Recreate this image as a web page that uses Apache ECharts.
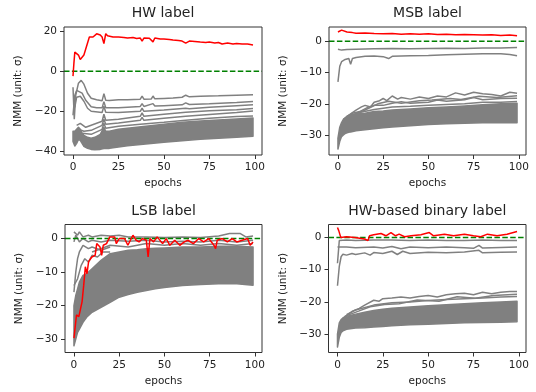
<!DOCTYPE html>
<html><head><meta charset="utf-8">
<script src="https://cdn.jsdelivr.net/npm/echarts@6/dist/echarts.min.js"></script>
<style>html,body{margin:0;padding:0;background:#fff}#c{width:536px;height:392px}</style>
</head><body><div id="c"></div>
<script>
// ---------- labels & ticks ----------
const titles = ['HW label', 'MSB label', 'LSB label', 'HW-based binary label'];
const xName = 'epochs';
const yName = 'NMM (unit: \u03c3)';
const epochTicks = [0, 25, 50, 75, 100];
const yTicksHW = [-40, -20, 0, 20];
const yTicksOther = [-30, -20, -10, 0];
const refLevel = 0;

// ---------- HW label ----------
const hwRed = [[0,-2.5],[0.5,4],[1,9.5],[2,10],[3,8],[4,5.8],[5,5.8],[6,8],[7,11],[8,14],[9,17],[10,17.5],[11,17],[12,17.6],[13,18.6],[14,18.5],[15,18],[16,17],[17,13.7],[18,18.7],[19,17.6],[20,17.3],[22,17],[25,17],[28,16.8],[30,16.5],[33,16.8],[35,16.3],[37,16.5],[38,15],[39,16.5],[42,16.4],[43,15.5],[44,14.6],[45,16.5],[48,16],[50,16],[53,15.8],[55,15.5],[58,15.3],[60,15],[62,14],[64,15],[67,14.8],[70,14.5],[73,14.3],[75,14.5],[78,14],[80,14.3],[82,13.5],[85,14],[88,13.5],[90,13.8],[93,13.5],[96,13.5],[99,13]];
const hwGrayA = [[0,-8],[0.7,-24],[1.5,-12],[3,-6],[4.5,-4.6],[6,-6.5],[8,-11],[10,-13.5],[13,-14.3],[16,-14.8],[17,-11.2],[18,-14.5],[20,-14.6],[25,-14.3],[30,-14.2],[37,-14],[38,-12.4],[39,-14],[43,-13.9],[44,-12.4],[45,-13.8],[50,-13.6],[55,-13.4],[60,-13],[62,-12],[64,-12.8],[70,-12.5],[80,-12.3],[90,-12],[99,-11.8]];
const hwGrayB = [[0,-22],[1,-12],[2,-9.6],[3,-9.5],[5,-11],[7,-14.5],[10,-17.8],[13,-18.3],[16,-18.3],[17,-15.2],[18,-18.2],[25,-18.3],[30,-18],[37,-17.6],[38,-16.2],[39,-17.6],[44,-16.2],[45,-17.4],[50,-17.2],[60,-16.8],[62,-15.8],[64,-16.6],[75,-16.2],[90,-15.6],[99,-15.1]];
const hwGrayC = [[1,-18],[2,-13],[4,-12.5],[6,-15],[8,-18.5],[10,-20],[16,-20.6],[17,-17.5],[18,-20.5],[25,-20.6],[37,-20],[38,-18.5],[39,-20],[50,-19.4],[62,-18.5],[64,-18.8],[75,-18],[90,-17.2],[99,-16.8]];
const hwGrayD = [[2,-27],[4,-26],[7,-28],[10,-27],[16,-25],[17,-21.5],[18,-24.5],[25,-24],[37,-22.5],[38,-20.8],[39,-22.5],[50,-21.5],[62,-20.5],[75,-19.8],[90,-19.2],[99,-18.6]];
const hwGrayE = [[3,-29],[6,-30],[10,-29.5],[16,-27],[17,-24],[18,-26.5],[25,-25.8],[37,-24.5],[38,-23],[39,-24.5],[50,-23.5],[62,-22.5],[75,-21.6],[90,-20.6],[99,-19.9]];
const hwGrayF = [[5,-31],[10,-31.5],[16,-29],[17,-26],[18,-28.5],[25,-27.5],[37,-26.5],[50,-25.5],[62,-24.5],[75,-23.5],[90,-22.6],[99,-22.3]];
const hwBandEpochs = [0,1,2,3,4,5,6,8,10,12,15,17,18,20,25,30,40,50,60,70,80,90,99];
const hwBandLow  = [-35,-37.3,-36,-34,-34.5,-36,-37.5,-38.5,-39,-39.2,-39,-38.6,-38.6,-38.5,-37.8,-37.2,-36.3,-35.4,-34.7,-34,-33.5,-33,-32.4];
const hwBandHigh = [-30,-30,-29,-28,-29,-31,-32,-33,-33.5,-33,-31.5,-28,-30,-30,-29,-28.5,-27.5,-26.5,-25.5,-24.8,-24.3,-23.8,-23.3];

// ---------- MSB label ----------
const msbRed = [[0,3],[1,3.3],[2,3.6],[3,3.3],[5,3],[8,2.8],[10,2.6],[15,2.7],[20,2.5],[25,2.4],[30,2.5],[35,2.3],[40,2.4],[45,2.3],[50,2.4],[55,2.2],[60,2.3],[65,2.1],[70,2.2],[75,2.1],[80,2],[85,2.1],[90,1.9],[95,2],[99,1.8]];
const msbGrayA = [[0,-2.5],[1,-3],[2,-2.8],[5,-2.6],[10,-2.5],[20,-2.4],[30,-2.3],[40,-2.4],[50,-2.3],[60,-2.2],[70,-2.3],[80,-2.1],[90,-2.1],[99,-2]];
const msbGrayB = [[0,-13],[1,-8],[2,-6.5],[4,-5.8],[6,-5.5],[7,-7.3],[8,-5.5],[10,-5.2],[15,-4.8],[20,-4.7],[25,-4.9],[28,-5.5],[30,-4.8],[40,-4.6],[50,-4.5],[60,-4.3],[70,-4.1],[80,-4],[90,-4],[95,-4.2],[99,-4.6]];
const msbTopA = [[5,-24],[10,-22],[13,-21],[15,-20.5],[18,-21],[20,-19.5],[23,-19],[25,-18.3],[27,-19],[30,-17.5],[33,-18.5],[35,-18],[40,-18.5],[45,-17.8],[50,-18.3],[55,-17.5],[60,-17.8],[65,-16.5],[70,-17.2],[75,-16.3],[80,-16.8],[85,-17],[90,-17.5],[95,-16.3],[99,-16.6]];
const msbTopB = [[3,-25],[8,-23],[12,-22.5],[17,-21],[20,-20.5],[25,-20.5],[30,-19.8],[35,-19.3],[40,-19.8],[50,-19.5],[55,-18.8],[60,-19.2],[70,-18.7],[75,-18],[80,-18.7],[90,-18.3],[99,-18.2]];
const msbTopC = [[10,-23],[20,-21.8],[30,-21],[40,-20.8],[50,-20.5],[60,-20.2],[70,-20],[80,-19.5],[90,-19.5],[99,-19.3]];
const msbTopD = [[6,-24],[15,-22],[22,-20],[28,-19.2],[35,-19.8],[45,-19],[52,-18.8],[62,-18.3],[68,-18.6],[78,-17.6],[88,-18],[99,-17.4]];
const msbBandEpochs = [0,1,2,3,4,5,7,10,15,20,25,30,40,50,60,70,80,90,99];
const msbBandLow  = [-34.5,-32,-30.5,-30,-29.5,-29.3,-29,-28.6,-28.3,-28,-27.7,-27.4,-27,-26.6,-26.4,-26.2,-26.1,-26,-26.1];
const msbBandHigh = [-31,-27.5,-26,-25,-24.5,-24,-23.5,-23.3,-23,-22.5,-22.3,-22,-21.7,-21.3,-21,-20.7,-20.3,-20,-19.8];

// ---------- LSB label ----------
const lsbRed = [[0,-29.7],[1.4,-22.8],[2.7,-23.3],[4.5,-18.8],[5.4,-13.9],[6.3,-8.4],[7.2,-10.5],[8.1,-6.9],[9.9,-5.5],[11.7,-5],[12.6,-1.5],[13.5,-1],[14.4,-2.5],[15.3,-5],[16.2,-2],[18,-1.5],[19.8,0.5],[22.5,0.5],[23.4,-1.5],[25,0],[28,0],[29.8,-2],[32.6,1],[34.4,-0.5],[36,-1],[38,0],[40,-0.5],[41,-5.5],[42,0],[44,-1],[46,0.5],[49,-1.5],[51,0],[53,-2],[55.7,-0.5],[58.5,-2],[61,-1],[63,-0.5],[66,-1.5],[69,0],[71.7,-1],[74.5,0],[77.4,-2],[78.3,-3],[79.2,-0.5],[82,0],[84.8,-1],[87.5,0],[90,-1],[93,-0.5],[96,0],[97.4,-2],[99,-1]];
const lsbTopA = [[0,2],[1,2.5],[2,1],[3,2],[5,0.5],[8,1],[10,0.5],[15,1],[20,0.8],[25,1],[30,0.5],[40,0.5],[50,0.3],[60,0.5],[70,0.3],[80,0.8],[86,1.5],[92,1.5],[95,0.5],[99,0.8]];
const lsbTopB = [[0,-1],[1,1],[3,-1],[5,0],[8,-1],[10,-0.5],[15,-1],[20,-0.5],[30,-0.8],[40,-0.5],[50,-1],[60,-0.8],[70,-1],[80,-0.5],[90,-1],[99,-0.5]];
const lsbLeftA = [[0,-16],[1,-10],[2,-6],[3,-4],[5,-2],[8,-3],[10,-2.5],[15,-3.5],[20,-2.5]];
const lsbLeftB = [[0,-14],[2,-12],[4,-8],[6,-6],[8,-7],[10,-5],[13,-5.5],[16,-4],[20,-4]];
const lsbMid = [[10,-4],[20,-2],[30,-2.5],[40,-1.5],[50,-2],[60,-1.5],[70,-2],[80,-1.5],[90,-2],[99,-1.5]];
const lsbBandEpochs = [0,1,2,3,5,7,10,15,20,25,30,35,40,45,50,60,70,80,90,99];
const lsbBandLow  = [-32,-30,-28,-27,-25,-23.5,-22,-20.5,-19,-17.5,-16.7,-16,-15.5,-15,-14.6,-14,-13.7,-13.5,-13.5,-13.9];
const lsbBandHigh = [-20,-17,-15,-13,-11,-10.5,-9,-6.5,-4.5,-4,-3.5,-3.3,-3,-2.9,-2.8,-2.5,-2.5,-2.3,-2.3,-2.5];

// ---------- HW-based binary label ----------
const binRed = [[0,3.1],[0.7,2.1],[1.8,0],[5,0.2],[9.5,0],[15,-0.5],[16.8,-1],[17.7,0.5],[20,0.8],[24,1.2],[26.7,0.5],[29.5,1.5],[30.3,1.8],[32,0.5],[34,1],[37,0.2],[40.6,0.5],[46,0.8],[50.6,1.5],[53,0.5],[59,1],[64,0.5],[70,1],[75,0.5],[79,0.2],[82.7,1],[88,0.5],[93.5,1],[99,1.8]];
const binGrayA = [[0,-8],[1,-1],[5,-0.8],[10,-1],[20,-0.8],[30,-0.8],[40,-1],[50,-0.8],[60,-1],[70,-1],[80,-0.8],[90,-1],[99,-1]];
const binGrayB = [[0,-3],[1,-2.8],[5,-3],[10,-3.2],[20,-3],[25,-3.3],[30,-2.8],[35,-3.5],[40,-3],[50,-3.2],[60,-3],[70,-3.2],[75,-3.4],[78,-2.5],[80,-3.3],[90,-3.1],[99,-3]];
const binGrayC = [[0,-15],[1,-9],[2,-6],[3,-5.2],[5,-5.5],[8,-5],[10,-5.3],[15,-4.8],[18,-5.5],[20,-4.7],[25,-5],[30,-4.3],[33,-5.3],[36,-4.3],[40,-5],[50,-4.6],[60,-4.8],[70,-4.5],[78,-4],[80,-4.8],[90,-4.6],[99,-4.5]];
const binTopA = [[3,-25],[8,-23],[12,-22],[15,-21],[20,-19.5],[23,-19.8],[25,-19],[30,-18.8],[35,-18.5],[40,-18.8],[45,-18.3],[50,-18],[55,-18.5],[60,-17.8],[65,-17.5],[70,-17.3],[75,-17.8],[80,-17],[85,-17.5],[90,-17],[95,-16.8],[99,-16.8]];
const binTopB = [[5,-24],[10,-22.5],[20,-21],[30,-20.3],[40,-20],[50,-19.6],[60,-19.3],[70,-19],[80,-18.8],[90,-18.5],[99,-18.3]];
const binTopC = [[4,-24.5],[12,-22.8],[18,-21.5],[26,-20.8],[34,-20.6],[44,-19.4],[56,-19.8],[66,-18.4],[76,-18.9],[86,-18],[99,-17.6]];
const binBandEpochs = [0,1,2,3,5,7,10,15,20,25,30,40,50,60,70,80,90,99];
const binBandLow  = [-34,-31,-29.5,-29,-28.5,-28.3,-28.1,-28,-27.8,-27.6,-27.4,-27.1,-26.9,-26.7,-26.5,-26.4,-26.3,-26.2];
const binBandHigh = [-30,-26.5,-25.5,-25,-24.5,-24.2,-23.8,-23.2,-22.7,-22.3,-22,-21.6,-21.2,-20.9,-20.6,-20.3,-20,-19.8];

// ---------- assemble ----------
const panels = [
  {red: hwRed, gray: [hwGrayF, hwGrayE, hwGrayD, hwGrayC, hwGrayB, hwGrayA], band: [hwBandEpochs, hwBandLow, hwBandHigh], yTicks: yTicksHW},
  {red: msbRed, gray: [msbTopC, msbTopB, msbTopD, msbTopA, msbGrayB, msbGrayA], band: [msbBandEpochs, msbBandLow, msbBandHigh], yTicks: yTicksOther},
  {red: lsbRed, gray: [lsbMid, lsbLeftB, lsbLeftA, lsbTopB, lsbTopA], band: [lsbBandEpochs, lsbBandLow, lsbBandHigh], yTicks: yTicksOther},
  {red: binRed, gray: [binTopB, binTopC, binTopA, binGrayC, binGrayB, binGrayA], band: [binBandEpochs, binBandLow, binBandHigh], yTicks: yTicksOther}
];
const layout = [
  {left: 64, top: 27, width: 198, height: 128, yMin: -41.8, yMax: 22},
  {left: 329, top: 27, width: 197, height: 128, yMin: -36.4, yMax: 4.6},
  {left: 65, top: 224.5, width: 197, height: 128, yMin: -34, yMax: 4.2},
  {left: 328.5, top: 224.5, width: 197.5, height: 128, yMin: -35.7, yMax: 4.0}
];
const FONT = 'DejaVu Sans';
const TXT = '#222';
const AX = '#333';
const GRAY = '#808080';
const minusFmt = v => String(v).replace('-', '\u2212');

const grid = [], xAxis = [], yAxis = [], series = [], title = [];
panels.forEach((p, i) => {
  const L = layout[i];
  grid.push({left: L.left, top: L.top, width: L.width, height: L.height, show: true,
    borderColor: AX, borderWidth: 1, backgroundColor: 'transparent', z: 5});
  title.push({text: titles[i], left: L.left + L.width / 2, top: L.top - 20.5, padding: 0,
    textAlign: 'center', textStyle: {fontFamily: FONT, fontSize: 14, fontWeight: 'normal', color: TXT}});
  xAxis.push({type: 'value', gridIndex: i, min: -4.95, max: 103.95, position: 'bottom',
    splitLine: {show: false}, axisLine: {show: false, onZero: false},
    axisTick: {show: true, customValues: epochTicks, length: 4, lineStyle: {color: AX}},
    axisLabel: {customValues: epochTicks, margin: 7, fontFamily: FONT, fontSize: 10.5, color: TXT, formatter: minusFmt},
    name: xName, nameLocation: 'middle', nameGap: 23,
    nameTextStyle: {fontFamily: FONT, fontSize: 10.5, color: TXT}});
  yAxis.push({type: 'value', gridIndex: i, min: L.yMin, max: L.yMax, position: 'left',
    splitLine: {show: false}, axisLine: {show: false, onZero: false},
    axisTick: {show: true, customValues: p.yTicks, length: 4, lineStyle: {color: AX}},
    axisLabel: {customValues: p.yTicks, margin: 7, fontFamily: FONT, fontSize: 10.5, color: TXT, formatter: minusFmt},
    name: yName, nameLocation: 'middle', nameGap: 40, nameRotate: 90,
    nameTextStyle: {fontFamily: FONT, fontSize: 10.5, color: TXT}});
  const [be, bl, bh] = p.band;
  series.push({type: 'custom', xAxisIndex: i, yAxisIndex: i, z: 1, silent: true, clip: true,
    data: [[be[0], bl[0]]],
    renderItem: (params, api) => {
      const pts = [];
      for (let k = 0; k < be.length; k++) pts.push(api.coord([be[k], bh[k]]));
      for (let k = be.length - 1; k >= 0; k--) pts.push(api.coord([be[k], bl[k]]));
      return {type: 'polygon', shape: {points: pts},
        style: {fill: GRAY, stroke: GRAY, lineWidth: 1.5, lineJoin: 'round'}};
    }});
  p.gray.forEach(g => series.push({type: 'line', xAxisIndex: i, yAxisIndex: i, z: 2, silent: true,
    data: g, showSymbol: false, symbol: 'none', lineStyle: {color: GRAY, width: 1.5}}));
  series.push({type: 'line', xAxisIndex: i, yAxisIndex: i, z: 3, silent: true,
    data: [[-4.95, refLevel], [103.95, refLevel]], showSymbol: false, symbol: 'none',
    lineStyle: {color: '#008000', width: 1.5, type: [5.5, 2.4]}});
  series.push({type: 'line', xAxisIndex: i, yAxisIndex: i, z: 4, silent: true,
    data: p.red, showSymbol: false, symbol: 'none', lineStyle: {color: '#ff0000', width: 1.5}});
});

const chart = echarts.init(document.getElementById('c'), null, {renderer: 'canvas'});
chart.setOption({animation: false, backgroundColor: '#fff', title, grid, xAxis, yAxis, series});
</script></body></html>
